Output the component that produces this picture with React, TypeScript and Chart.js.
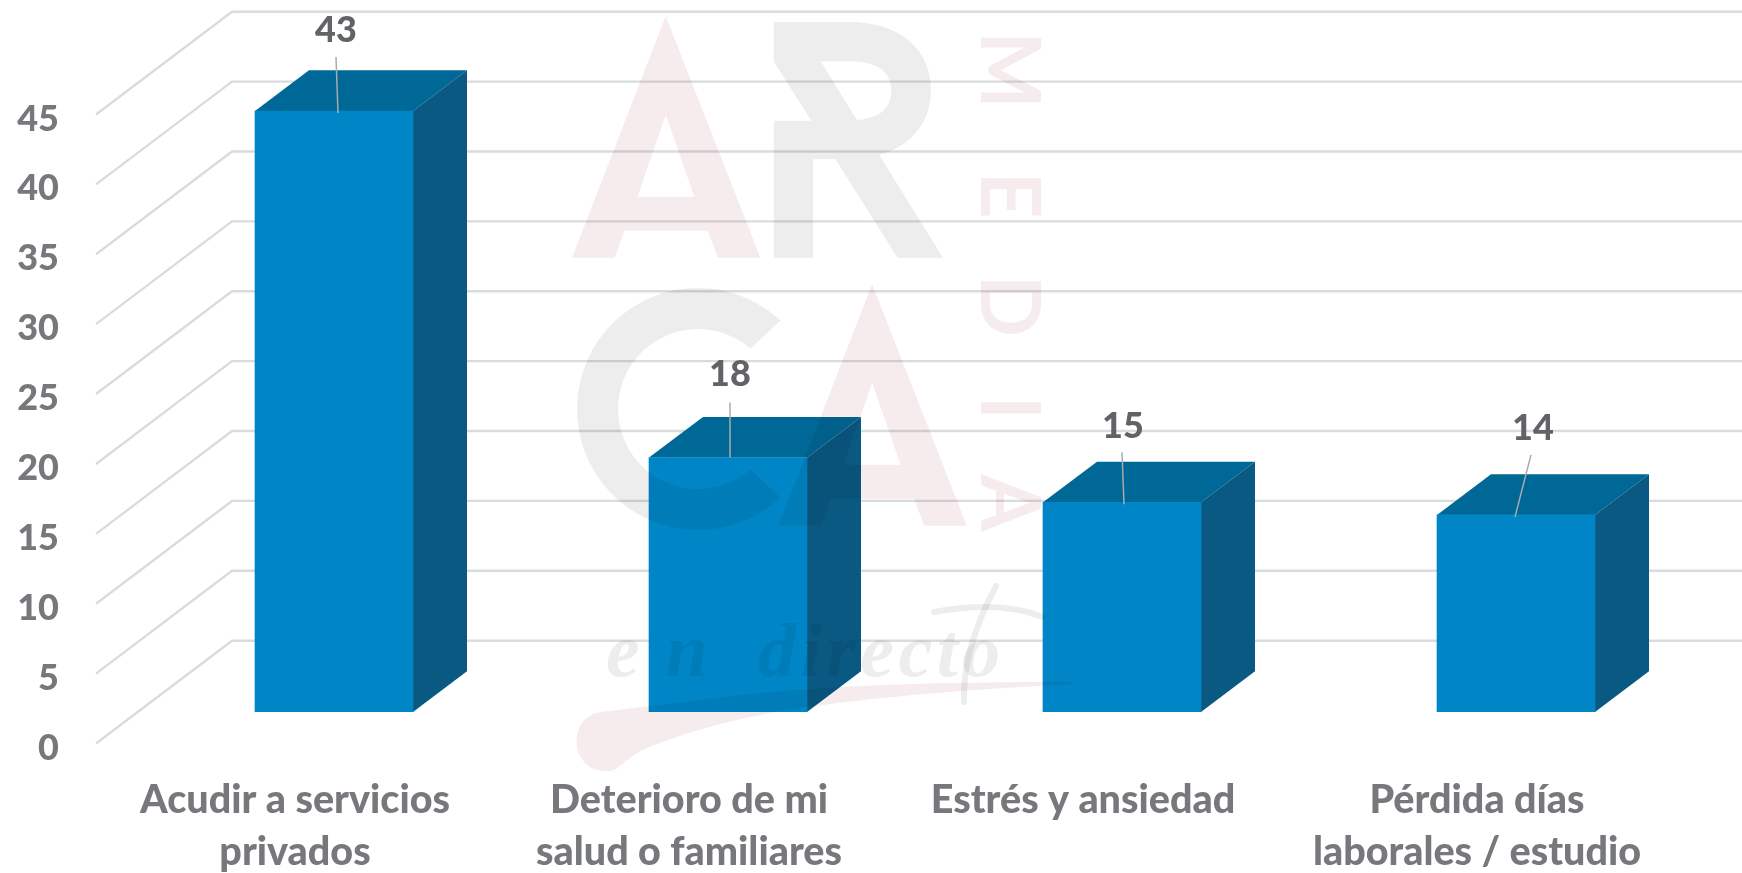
import React, { useEffect, useRef } from "react";
import { Chart, registerables } from "chart.js";

Chart.register(...registerables);

const categories = [
  ["Acudir a servicios", "privados"],
  ["Deterioro de mi", "salud o familiares"],
  ["Estrés y ansiedad"],
  ["Pérdida días", "laborales / estudio"],
];
const values = [43, 18.2, 15, 14.1];
const shownLabels = ["43", "18", "15", "14"];
const tickStep = 5;
const axisMax = 45;

// Offsets of each data label and its leader line from the top-centre of its bar
const labelOffsets = [
  { tx: 2, ty: -81, sx: 2, sy: -54, ex: 4, ey: 2 },
  { tx: 2, ty: -83, sx: 2, sy: -55, ex: 2, ey: 0 },
  { tx: 1, ty: -76, sx: 0, sy: -50, ex: 2, ey: 2 },
  { tx: 17, ty: -87, sx: 15, sy: -60, ex: -1, ey: 2 },
];

const FRONT = "#0086c6";
const TOP = "#006896";
const SIDE = "#095983";
const GRID = "#d9dcde";
const AXIS_TEXT = "#76787c";
const LABEL_TEXT = "#626366";
const PINK = "#f6eced";
const GRAY = "#ededed";

const FONT = "Lato";

const box3d = {
  id: "box3d",
  beforeDatasetsDraw(chart: any) {
    const { ctx, scales } = chart;
    const y = scales.y;
    ctx.save();
    ctx.strokeStyle = GRID;
    ctx.lineWidth = 2.4;
    for (let v = 0; v <= axisMax; v += tickStep) {
      const p = y.getPixelForValue(v);
      ctx.beginPath();
      ctx.moveTo(96, p + 31.5);
      ctx.lineTo(232, p - 71.3);
      ctx.lineTo(chart.width, p - 71.3);
      ctx.stroke();
    }
    const dx = 54;
    const dy = 40.7;
    const meta = chart.getDatasetMeta(0);
    meta.data.forEach((bar: any) => {
      const props = bar.getProps(["x", "y", "base", "width"], true);
      const l = props.x - props.width / 2;
      const r = props.x + props.width / 2;
      ctx.fillStyle = TOP;
      ctx.beginPath();
      ctx.moveTo(l, props.y);
      ctx.lineTo(l + dx, props.y - dy);
      ctx.lineTo(r + dx, props.y - dy);
      ctx.lineTo(r, props.y);
      ctx.closePath();
      ctx.fill();
      ctx.fillStyle = SIDE;
      ctx.beginPath();
      ctx.moveTo(r, props.y);
      ctx.lineTo(r + dx, props.y - dy);
      ctx.lineTo(r + dx, props.base - dy);
      ctx.lineTo(r, props.base);
      ctx.closePath();
      ctx.fill();
    });
    ctx.restore();
  },
};

function drawA(ctx: CanvasRenderingContext2D, ox: number, oy: number) {
  const X = (z: number) => ox + 540 + z * 0.3444;
  const Y = (z: number) => oy + z / 3;
  ctx.beginPath();
  const outer = [[365, 48], [640, 773], [516, 773], [487, 692], [245, 692], [217, 773], [93, 773]];
  outer.forEach(([a, b], i) => (i ? ctx.lineTo(X(a), Y(b)) : ctx.moveTo(X(a), Y(b))));
  ctx.closePath();
  const hole = [[365, 345], [283, 590], [448, 590]];
  hole.forEach(([a, b], i) => (i ? ctx.lineTo(X(a), Y(b)) : ctx.moveTo(X(a), Y(b))));
  ctx.closePath();
  ctx.fillStyle = PINK;
  ctx.fill("evenodd");
}

function drawR(ctx: CanvasRenderingContext2D) {
  const X = (z: number) => 540 + z * 0.3444;
  const Y = (z: number) => z / 3;
  ctx.beginPath();
  ctx.moveTo(X(679), Y(66));
  ctx.lineTo(X(895), Y(66));
  ctx.bezierCurveTo(X(1050), Y(66), X(1135), Y(150), X(1135), Y(270));
  ctx.bezierCurveTo(X(1135), Y(370), X(1075), Y(440), X(985), Y(465));
  ctx.lineTo(X(1170), Y(773));
  ctx.lineTo(X(1038), Y(773));
  ctx.lineTo(X(858), Y(478));
  ctx.lineTo(X(793), Y(478));
  ctx.lineTo(X(793), Y(773));
  ctx.lineTo(X(679), Y(773));
  ctx.lineTo(X(679), Y(362));
  ctx.lineTo(X(788), Y(362));
  ctx.lineTo(X(679), Y(185));
  ctx.closePath();
  ctx.moveTo(X(815), Y(184));
  ctx.lineTo(X(895), Y(184));
  ctx.bezierCurveTo(X(980), Y(184), X(1020), Y(215), X(1020), Y(272));
  ctx.bezierCurveTo(X(1020), Y(325), X(985), Y(355), X(920), Y(360));
  ctx.closePath();
  ctx.fillStyle = GRAY;
  ctx.fill("evenodd");
}

function drawWatermark(ctx: CanvasRenderingContext2D) {
  ctx.save();
  ctx.globalCompositeOperation = "multiply";
  drawA(ctx, 0, 0);
  drawR(ctx);
  drawA(ctx, 206.4, 268);

  // C
  const r = (d: number) => (d * Math.PI) / 180;
  ctx.beginPath();
  ctx.arc(698, 409, 121, r(47), r(313));
  ctx.arc(698, 409, 80, r(311), r(49), true);
  ctx.closePath();
  ctx.fillStyle = GRAY;
  ctx.fill();

  // MEDIA, running downwards
  const letters: [string, number][] = [["M", 70], ["E", 195], ["D", 306], ["I", 408], ["A", 503]];
  ctx.fillStyle = PINK;
  ctx.font = `700 82px ${FONT}`;
  ctx.textAlign = "center";
  ctx.textBaseline = "alphabetic";
  letters.forEach(([ch, yy]) => {
    ctx.save();
    ctx.translate(981, yy);
    ctx.rotate(Math.PI / 2);
    ctx.fillText(ch, 0, 0);
    ctx.restore();
  });

  // swoosh
  ctx.beginPath();
  ctx.moveTo(1073, 682);
  ctx.bezierCurveTo(950, 682, 860, 684, 760, 693);
  ctx.lineTo(600, 712);
  ctx.bezierCurveTo(565, 718, 570, 775, 610, 771);
  ctx.bezierCurveTo(620, 770, 625, 758, 643, 750);
  ctx.bezierCurveTo(665, 740, 690, 732, 710, 727);
  ctx.bezierCurveTo(740, 718, 780, 711, 807, 707);
  ctx.bezierCurveTo(900, 694, 1000, 688, 1073, 684);
  ctx.closePath();
  ctx.fillStyle = PINK;
  ctx.fill();

  // "en directo" signature
  ctx.fillStyle = GRAY;
  ctx.textAlign = "left";
  ctx.font = "italic 700 76px 'Liberation Serif'";
  (ctx as any).letterSpacing = "26px";
  ctx.fillText("en", 606, 676);
  (ctx as any).letterSpacing = "4.5px";
  ctx.fillText("directo", 758, 676);
  (ctx as any).letterSpacing = "0px";
  ctx.strokeStyle = GRAY;
  ctx.lineWidth = 6;
  ctx.lineCap = "round";
  ctx.beginPath();
  ctx.moveTo(934, 612);
  ctx.quadraticCurveTo(1000, 600, 1043, 617);
  ctx.stroke();
  ctx.beginPath();
  ctx.moveTo(996, 586);
  ctx.quadraticCurveTo(962, 650, 964, 702);
  ctx.stroke();
  ctx.restore();
}

const overlays = {
  id: "overlays",
  afterDatasetsDraw(chart: any) {
    const { ctx } = chart;
    drawWatermark(ctx);
    const meta = chart.getDatasetMeta(0);
    ctx.save();
    meta.data.forEach((bar: any, i: number) => {
      const props = bar.getProps(["x", "y"], true);
      const o = labelOffsets[i];
      ctx.strokeStyle = "#a9abad";
      ctx.lineWidth = 1.5;
      ctx.beginPath();
      ctx.moveTo(props.x + o.sx, props.y + o.sy);
      ctx.lineTo(props.x + o.ex, props.y + o.ey);
      ctx.stroke();
      ctx.fillStyle = LABEL_TEXT;
      ctx.font = `900 36px ${FONT}`;
      ctx.textAlign = "center";
      ctx.textBaseline = "middle";
      ctx.fillText(shownLabels[i], props.x + o.tx, props.y + o.ty);
    });
    ctx.restore();
  },
};

export default function App() {
  const ref = useRef<HTMLCanvasElement>(null);
  useEffect(() => {
    document.body.style.margin = "0";
    document.body.style.background = "#fff";
    const chart = new Chart(ref.current as HTMLCanvasElement, {
      type: "bar",
      data: {
        labels: categories as any,
        datasets: [
          {
            data: values,
            backgroundColor: FRONT,
            borderWidth: 0,
            barThickness: 158,
          },
        ],
      },
      plugins: [box3d, overlays],
      options: {
        animation: false,
        responsive: false,
        devicePixelRatio: 1,
        layout: { autoPadding: false, padding: { top: 83, right: 29, left: 0, bottom: 0 } },
        plugins: { legend: { display: false }, tooltip: { enabled: false } },
        scales: {
          x: {
            afterFit: (s: any) => {
              s.height = 161;
              s.paddingLeft = 0;
              s.paddingRight = 0;
            },
            grid: { display: false, drawTicks: false },
            border: { display: false },
            ticks: {
              autoSkip: false,
              maxRotation: 0,
              padding: 63,
              labelOffset: -39,
              color: AXIS_TEXT,
              font: { family: FONT, size: 39.5, weight: "900", lineHeight: 1.3 },
            },
          },
          y: {
            min: 0,
            max: axisMax,
            afterFit: (s: any) => {
              s.width = 137;
              s.paddingTop = 0;
              s.paddingBottom = 0;
            },
            grid: { display: false, drawTicks: false },
            border: { display: false },
            ticks: {
              stepSize: tickStep,
              padding: 78,
              labelOffset: 36,
              color: AXIS_TEXT,
              font: { family: FONT, size: 36, weight: "900" },
            },
          },
        },
      } as any,
    });
    return () => chart.destroy();
  }, []);
  return (
    <div style={{ position: "absolute", left: 0, top: 0, width: 1742, height: 873, overflow: "hidden" }}>
      <canvas ref={ref} width={1742} height={873} style={{ display: "block", filter: "blur(0.6px)" }} />
    </div>
  );
}
